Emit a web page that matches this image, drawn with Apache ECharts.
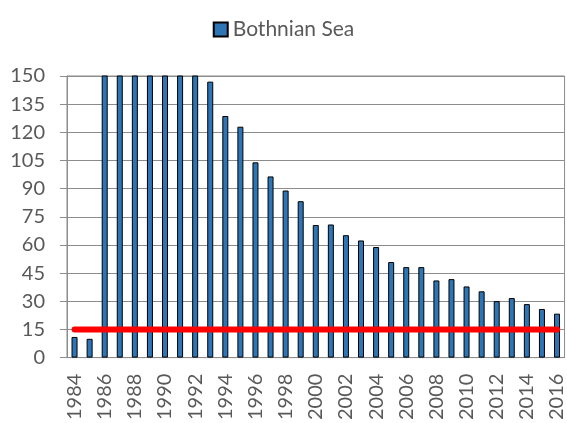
<!DOCTYPE html>
<html><head><meta charset="utf-8">
<script src="https://cdn.jsdelivr.net/npm/echarts@6/dist/echarts.min.js"></script>
<style>html,body{margin:0;padding:0;background:#fff}#c{width:567px;height:423px}</style>
</head><body><div id="c"></div>
<script>
var years = [];
for (var y = 1984; y <= 2016; y++) years.push(String(y));
var bothnianSea = [11, 10, 200, 200, 200, 200, 200, 200, 200, 147, 128.7, 123, 104, 96.5, 89, 83.3, 70.6, 70.9, 65.2, 62.4, 58.9, 50.9, 48.2, 48.2, 41.1, 41.8, 37.9, 35.3, 30.1, 31.7, 28.5, 25.9, 23.4];
var threshold = years.map(function(){ return 15; });
var yTicks = {min: 0, max: 150, interval: 15};
var FONT = 'Lato';

var chart = echarts.init(document.getElementById('c'));
chart.setOption({
  animation: false,
  textStyle: {fontFamily: FONT},
  legend: {
    data: [{name: 'Bothnian Sea', icon: 'rect'}],
    top: 14, left: 'center',
    itemWidth: 14, itemHeight: 14,
    itemGap: 5,
    textStyle: {fontSize: 21, color: '#595959', fontFamily: FONT}
  },
  grid: {left: 67, right: 1, top: 76, bottom: 65, show: true, borderColor: '#8c8c8c', borderWidth: 1},
  xAxis: {
    type: 'category', data: years,
    axisLine: {lineStyle: {color: '#8c8c8c'}},
    axisTick: {show: false},
    axisLabel: {rotate: 90, interval: 1, fontSize: 20, color: '#595959', margin: 16, fontFamily: FONT}
  },
  yAxis: {
    type: 'value', min: yTicks.min, max: yTicks.max, interval: yTicks.interval,
    axisLine: {show: true, lineStyle: {color: '#8c8c8c'}},
    axisTick: {show: true, length: 7, lineStyle: {color: '#8c8c8c'}},
    splitLine: {lineStyle: {color: '#8c8c8c', width: 1}},
    axisLabel: {fontSize: 20, color: '#595959', margin: 22, fontFamily: FONT}
  },
  series: [
    {
      name: 'Bothnian Sea', type: 'bar', data: bothnianSea, barWidth: 6, clip: true,
      itemStyle: {color: '#2E75B6', borderColor: '#000', borderWidth: 1}
    },
    {
      name: 'threshold', type: 'line', data: threshold, symbol: 'none', z: 5,
      lineStyle: {color: '#FF0000', width: 6, cap: 'round'}
    }
  ]
});
</script></body></html>
